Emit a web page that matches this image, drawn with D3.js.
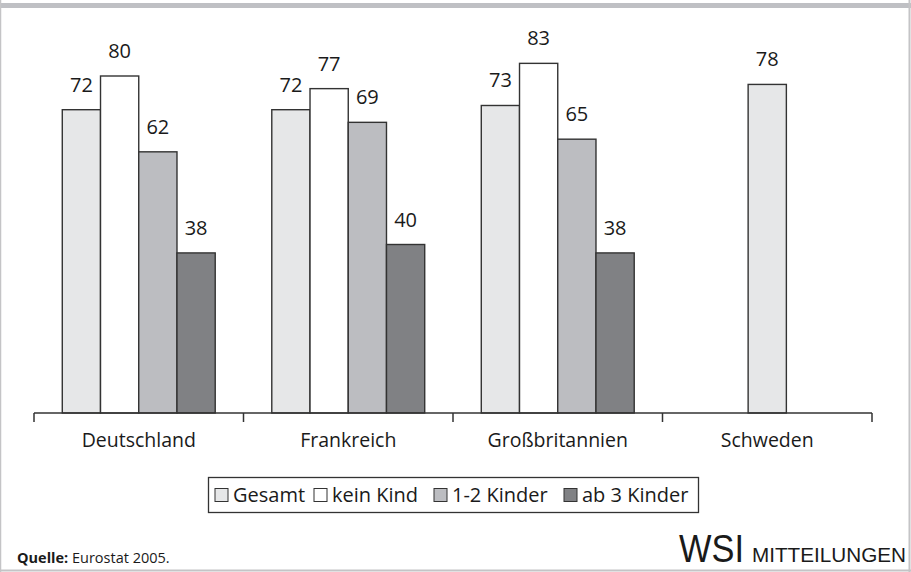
<!DOCTYPE html>
<html>
<head>
<meta charset="utf-8">
<script src="https://cdn.jsdelivr.net/npm/d3@7"></script>
<style>
  body { margin: 0; background: #fff; }
  svg { display: block; font-family: "Open Sans", "DejaVu Sans", sans-serif; }
  .val, .cat, .leg { fill: #1a1a1a; }
</style>
</head>
<body>
<svg width="911" height="572"></svg>
<script>
const countries = ["Deutschland", "Frankreich", "Großbritannien", "Schweden"];
const seriesNames = ["Gesamt", "kein Kind", "1-2 Kinder", "ab 3 Kinder"];
const colors = ["#e6e7e8", "#ffffff", "#bcbdc1", "#808184"];
// null = kein Wert
const gesamt = [72, 72, 73, 78];
const keinKind = [80, 77, 83, null];
const kinder12 = [62, 69, 65, null];
const kinder3 = [38, 40, 38, null];

const svg = d3.select("svg");

// frame
svg.append("rect").attr("x", 0).attr("y", 3).attr("width", 911).attr("height", 5).attr("fill", "#bfc0c4");
svg.append("line").attr("x1", 0.5).attr("x2", 0.5).attr("y1", 0).attr("y2", 572).attr("stroke", "#c4c4c6").attr("stroke-width", 1.5);
svg.append("line").attr("x1", 909.5).attr("x2", 909.5).attr("y1", 0).attr("y2", 572).attr("stroke", "#c4c4c6").attr("stroke-width", 2);
svg.append("line").attr("x1", 0).attr("x2", 911).attr("y1", 570.5).attr("y2", 570.5).attr("stroke", "#c4c4c6").attr("stroke-width", 2);

const data = countries.map((c, i) => {
  const vals = [gesamt[i], keinKind[i], kinder12[i], kinder3[i]];
  return {
    country: c,
    bars: vals.map((v, j) => ({ key: j, value: v })).filter(d => d.value !== null)
  };
});

const x0 = d3.scaleBand().domain(countries).range([34, 872]).paddingInner(0.27).paddingOuter(0.135);
const y = d3.scaleLinear().domain([0, 80]).range([413, 76]);
const barW = x0.bandwidth() / 4;

const groups = svg.selectAll("g.country")
  .data(data)
  .enter()
  .append("g")
  .attr("class", "country")
  .attr("transform", d => {
    // center the bars that exist inside the band
    const offset = (x0.bandwidth() - d.bars.length * barW) / 2;
    return `translate(${x0(d.country) + offset},0)`;
  });

groups.selectAll("rect")
  .data(d => d.bars)
  .enter()
  .append("rect")
  .attr("x", (d, i) => i * barW)
  .attr("y", d => y(d.value))
  .attr("width", barW)
  .attr("height", d => y(0) - y(d.value))
  .attr("fill", d => colors[d.key])
  .attr("stroke", "#333")
  .attr("stroke-width", 1.4);

groups.selectAll("text.val")
  .data(d => d.bars)
  .enter()
  .append("text")
  .attr("class", "val")
  .attr("x", (d, i) => i * barW + barW / 2)
  .attr("y", d => y(d.value) - 18)
  .attr("text-anchor", "middle")
  .style("font-size", "20px")
  .text(d => d.value);

// axis
const axisG = svg.append("g");
axisG.append("line")
  .attr("x1", 34).attr("x2", 872)
  .attr("y1", y(0)).attr("y2", y(0))
  .attr("stroke", "#333").attr("stroke-width", 1.5);
const tickPos = countries.map(c => x0(c) - x0.step() * x0.paddingInner() / 2);
tickPos.push(872);
axisG.selectAll("line.tick")
  .data(tickPos)
  .enter()
  .append("line")
  .attr("class", "tick")
  .attr("x1", d => d).attr("x2", d => d)
  .attr("y1", y(0)).attr("y2", y(0) + 9)
  .attr("stroke", "#333").attr("stroke-width", 1.5);
axisG.selectAll("text.cat")
  .data(countries)
  .enter()
  .append("text")
  .attr("class", "cat")
  .attr("x", d => x0(d) + x0.bandwidth() / 2)
  .attr("y", 447)
  .attr("text-anchor", "middle")
  .style("font-size", "19.5px")
  .text(d => d);

// legend
svg.append("rect")
  .attr("x", 208.5).attr("y", 477.5).attr("width", 490).attr("height", 35)
  .attr("fill", "#fff").attr("stroke", "#333").attr("stroke-width", 1.3);
const legX = [215, 314, 434, 564];
const leg = svg.selectAll("g.leg")
  .data(seriesNames)
  .enter()
  .append("g")
  .attr("transform", (d, i) => `translate(${legX[i]},0)`);
leg.append("rect")
  .attr("x", 0).attr("y", 488.5).attr("width", 13).attr("height", 13)
  .attr("fill", (d, i) => colors[i]).attr("stroke", "#333").attr("stroke-width", 1);
leg.append("text")
  .attr("class", "leg")
  .attr("x", 18).attr("y", 502)
  .style("font-size", "20px")
  .text(d => d);

// source and logo
const src = svg.append("text").attr("x", 17).attr("y", 563).style("font-size", "14.5px").attr("fill", "#1a1a1a");
src.append("tspan").style("font-weight", "bold").text("Quelle:");
src.append("tspan").text(" Eurostat 2005.");

svg.append("text")
  .attr("x", 679).attr("y", 562)
  .style("font-family", "'Liberation Sans', Arial, sans-serif")
  .style("font-size", "39px")
  .attr("textLength", 65)
  .attr("lengthAdjust", "spacingAndGlyphs")
  .attr("fill", "#1a1a1a")
  .text("WSI");
svg.append("text")
  .attr("x", 752).attr("y", 562)
  .style("font-family", "'Liberation Sans', Arial, sans-serif")
  .style("font-size", "21px")
  .attr("fill", "#1a1a1a")
  .attr("textLength", 154)
  .attr("lengthAdjust", "spacingAndGlyphs")
  .text("MITTEILUNGEN");
</script>
</body>
</html>
